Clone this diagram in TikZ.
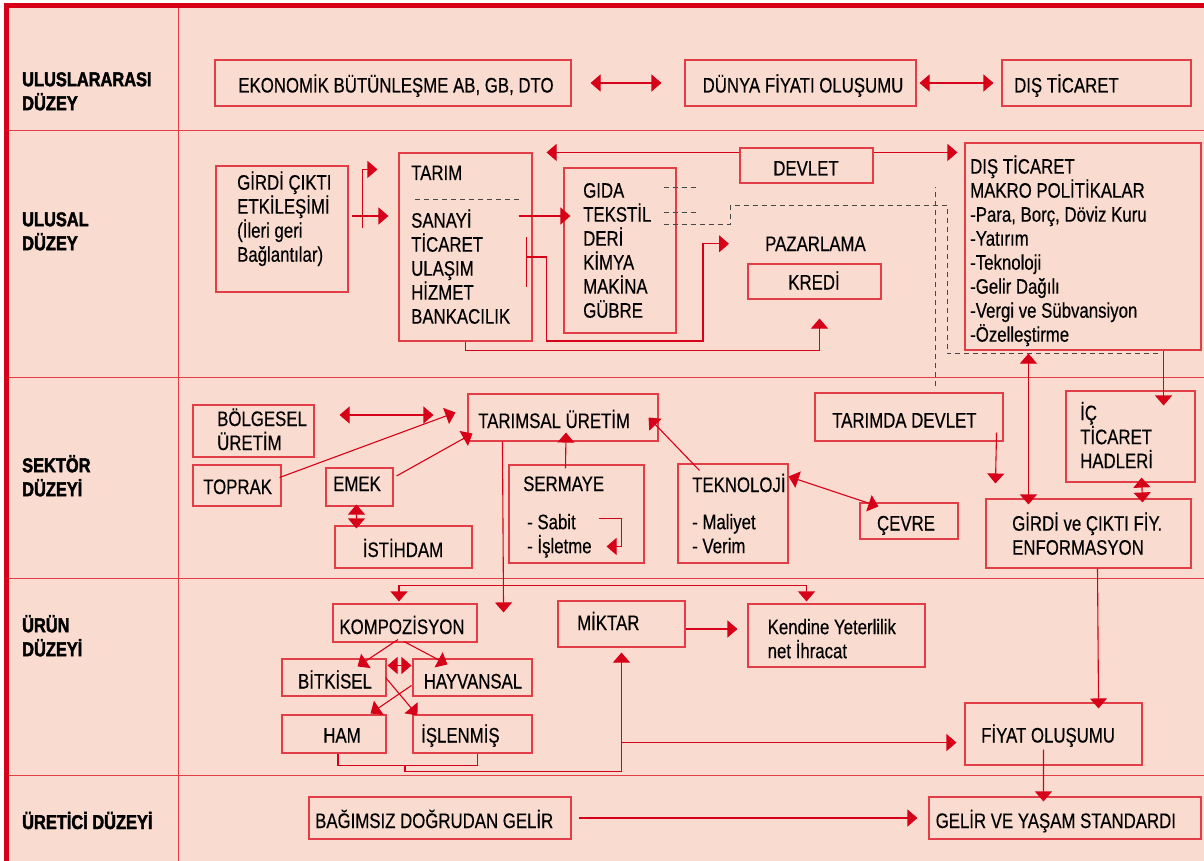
\documentclass[tikz,border=0pt]{standalone}
\usepackage{fontspec}
\setmainfont{Liberation Sans}[FakeStretch=0.8,FakeBold=0.4]
\newfontfamily\levelfont{Liberation Sans}[FakeStretch=0.82,FakeBold=2]
\usetikzlibrary{arrows.meta,fit}

\definecolor{bgpink}{RGB}{249,220,207}
\definecolor{framered}{RGB}{215,0,22}
\definecolor{boxred}{RGB}{226,62,72}
\definecolor{arrowred}{RGB}{214,0,24}
\definecolor{dashgray}{RGB}{70,70,70}

\newcommand{\bodyfont}{\fontsize{21}{24}\selectfont\lineskiplimit=-30pt}
\newcommand{\st}{\rule{0pt}{20pt}}

\tikzset{
  box/.style={draw=boxred, line width=1.1pt, inner sep=0pt},
  lbl/.style={anchor=base west, inner sep=0pt, font=\bodyfont},
  ctr/.style={anchor=base, inner sep=0pt, font=\bodyfont},
  lst/.style={anchor=north west, inner sep=0pt, align=left, font=\bodyfont},
  level/.style={anchor=north west, inner sep=0pt, align=left, font=\levelfont\bfseries\fontsize{20}{24}\selectfont},
  rowline/.style={draw=boxred, line width=1pt},
  arr/.style={draw=arrowred, line width=1.1pt, -{Triangle[length=10pt,width=17pt]}},
  dbl/.style={draw=arrowred, line width=1.1pt, {Triangle[length=10pt,width=17pt]}-{Triangle[length=10pt,width=17pt]}},
  link/.style={draw=arrowred, line width=1.1pt},
  dashln/.style={draw=dashgray, line width=1pt, dash pattern=on 5pt off 4pt}
}

\begin{document}
\begin{tikzpicture}[x=1pt,y=-1pt]

\useasboundingbox (0,0) rectangle (1204,861);
\fill[white] (0,0) rectangle (1204,861);
\fill[bgpink] (4,3) rectangle (1204,861);
\fill[framered] (4,3) rectangle (1204,8);
\fill[framered] (4,3) rectangle (9,861);
\foreach \y in {131,377,578,775}
  \draw[rowline] (9,\y) -- (1204,\y);
\draw[rowline] (178,8) -- (178,861);

\node[level] (l1) at (22,66) {\st ULUSLARARASI\\DÜZEY};
\node[level] (l2) at (22,206) {\st ULUSAL\\DÜZEY};
\node[level] (l3) at (22,452) {\st SEKTÖR\\DÜZEYİ};
\node[level] (l4) at (22,612) {\st ÜRÜN\\DÜZEYİ};
\node[level, anchor=base west] (l5) at (22,829) {ÜRETİCİ DÜZEYİ};

\node[box, fit={(215,60) (571,106)}] (eko) {};
\node[ctr] (eko-t) at (396,92.5) {EKONOMİK BÜTÜNLEŞME AB, GB, DTO};
\node[box, fit={(685,60) (916,106)}] (dunya) {};
\node[ctr] (dunya-t) at (803,92.5) {DÜNYA FİYATI OLUŞUMU};
\node[box, fit={(1002,60) (1191,106)}] (dis) {};
\node[lbl] (dis-t) at (1014,92.5) {DIŞ TİCARET};

\draw[dbl] ([xshift=19pt]eko.east) -- ([xshift=-23pt]dunya.west);
\draw[dbl] ([xshift=3pt]dunya.east) -- ([xshift=-8pt]dis.west);

\node[box, fit={(216,166) (348,292)}] (girdi) {};
\node[lst] (girdi-t) at (237,169.5) {\st GİRDİ ÇIKTI\\ETKİLEŞİMİ\\(İleri geri\\Bağlantılar)};
\node[box, fit={(399,153) (532,341)}] (tarim) {};
\node[lbl] (tarim-t) at (411,180) {TARIM};
\node[lst] (sektor-t) at (411,207.5) {\st SANAYİ\\TİCARET\\ULAŞIM\\HİZMET\\BANKACILIK};
\node[box, fit={(564,168) (676,333)}] (gida) {};
\node[lst] (gida-t) at (583,177.5) {\st GIDA\\TEKSTİL\\DERİ\\KİMYA\\MAKİNA\\GÜBRE};
\node[box, fit={(740,148) (873,183)}] (devlet) {};
\node[ctr] (devlet-t) at (806,175.5) {DEVLET};
\node[lbl] (pazar) at (765,251) {PAZARLAMA};
\node[box, fit={(748,264) (881,299)}] (kredi) {};
\node[ctr] (kredi-t) at (814,289.5) {KREDİ};
\node[box, fit={(965,143) (1201,350)}] (makro) {};
\node[lst] (makro-t) at (970,153.5) {\st DIŞ TİCARET\\MAKRO POLİTİKALAR\\-Para, Borç, Döviz Kuru\\-Yatırım\\-Teknoloji\\-Gelir Dağılı\\-Vergi ve Sübvansiyon\\-Özelleştirme};

\draw[arr] ([xshift=3pt,yshift=13pt]girdi.east) coordinate (g0) -- ([xshift=-10pt]g0 -| tarim.west);
\draw[arr] ([xshift=11pt,yshift=-12pt]g0) |- ([xshift=-21pt,yshift=-17pt]tarim.north west);
\draw[dashln] ([xshift=17pt,yshift=-47pt]tarim.north west) -- ([xshift=-12pt,yshift=-47pt]tarim.north east);
\draw[arr] ([xshift=-14pt]g0 -| tarim.east) -- ([xshift=7pt]g0 -| gida.west);
\draw[link] ([xshift=-6pt,yshift=10pt]tarim.east) -- ([xshift=-6pt,yshift=-40pt]tarim.east);
\draw[arr] ([xshift=-6pt,yshift=-10pt]tarim.east) -| ++(20,84) -| ([xshift=-62pt]pazar.west) -- ([xshift=-36pt]pazar.west);
\draw[arr] (tarim.south) -- ++(0,9) -| ([xshift=5pt,yshift=-19pt]kredi.south);
\draw[arr] ([yshift=-5pt]devlet.north west) coordinate (d0) -- ([xshift=14pt]d0 -| tarim.east);
\draw[arr] ([yshift=-5pt]devlet.north east) -- ([xshift=-7pt]d0 -| makro.west);
\draw[dashln] ([xshift=-13pt,yshift=-20pt]gida.north east) -- ++(34,0);
\draw[dashln] ([xshift=-13pt,yshift=-45pt]gida.north east) -- ++(34,0);
\draw[dashln] ([xshift=-13pt,yshift=-57pt]gida.north east) -- ++(67,0) -- ++(0,-19) -| ([xshift=-17pt,yshift=-3pt]makro.south west) -- ([xshift=-44pt,yshift=-3pt]makro.south east);

\node[box, fit={(193,405) (314,457)}] (bolgesel) {};
\node[lst] (bolgesel-t) at (217,405.8) {\st BÖLGESEL\\ÜRETİM};
\node[box, fit={(193,465) (281,506)}] (toprak) {};
\node[lbl] (toprak-t) at (203,494) {TOPRAK};
\node[box, fit={(326,468) (393,506)}] (emek) {};
\node[lbl] (emek-t) at (333,491) {EMEK};
\node[box, fit={(335,526) (472,568)}] (istihdam) {};
\node[ctr] (istihdam-t) at (403,557) {İSTİHDAM};
\node[box, fit={(468,394) (658,441)}] (tarimsal) {};
\node[lbl] (tarimsal-t) at (478,428) {TARIMSAL ÜRETİM};
\node[box, fit={(509,465) (644,563)}] (sermaye) {};
\node[lbl] (sermaye-t) at (523,491) {SERMAYE};
\node[lst] (sermaye-l) at (527,509) {\st - Sabit\\- İşletme};
\node[box, fit={(678,464) (788,563)}] (teknoloji) {};
\node[lbl] (teknoloji-t) at (692,492) {TEKNOLOJİ};
\node[lst] (teknoloji-l) at (692,509) {\st - Maliyet\\- Verim};
\node[box, fit={(860,503) (958,539)}] (cevre) {};
\node[ctr] (cevre-t) at (906,530.5) {ÇEVRE};
\node[box, fit={(815,393) (1003,441)}] (tdevlet) {};
\node[lbl] (tdevlet-t) at (832,427.5) {TARIMDA DEVLET};
\node[box, fit={(1066,391) (1195,482)}] (ic) {};
\node[lst] (ic-t) at (1080,400) {\st İÇ\\TİCARET\\HADLERİ};
\node[box, fit={(986,499) (1191,568)}] (gfiy) {};
\node[lst] (gfiy-t) at (1012,510.5) {\st GİRDİ ve ÇIKTI FİY.\\ENFORMASYON};

\draw[dashln] ([xshift=26pt,yshift=6pt]tdevlet.north) -- ++(0,-199);
\draw[dbl] ([xshift=64pt,yshift=-3pt]makro.south west) -- ([xshift=43pt,yshift=-6pt]gfiy.north west);
\draw[arr] ([xshift=-38pt]makro.south east) -- ([xshift=-32pt,yshift=-15pt]ic.north east);
\draw[dbl] ([xshift=25pt,yshift=16pt]bolgesel.east) coordinate (b0) -- ([xshift=-34pt]b0 -| tarimsal.west);
\draw[arr] ([xshift=-2pt,yshift=8pt]toprak.east) -- ([xshift=-12pt,yshift=5pt]tarimsal.west);
\draw[arr] ([xshift=3pt,yshift=11pt]emek.east) -- ([xshift=5pt,yshift=8pt]tarimsal.south west);
\draw[dbl] ([xshift=-3pt,yshift=2pt]emek.south) -- ([xshift=22pt,yshift=-3pt]istihdam.north west);
\draw[arr] ([xshift=-11pt,yshift=-4pt]sermaye.north) -- ([xshift=3pt,yshift=9pt]tarimsal.south);
\draw[arr] ([xshift=-46pt,yshift=-54pt]sermaye.north east) -| ++(23,28) -- ++(-15,0);
\draw[arr] ([xshift=22pt,yshift=-7pt]teknoloji.north west) -- ([xshift=-10pt]tarimsal.east);
\draw[dbl] ([yshift=-13pt]teknoloji.north east) -- ([xshift=19pt,yshift=-4pt]cevre.north west);
\draw[arr] ([xshift=-7pt,yshift=9pt]tdevlet.south east) -- ([xshift=10pt,yshift=15pt]gfiy.north west);
\draw[dbl] ([xshift=11pt,yshift=5pt]ic.south) -- ([xshift=-49pt,yshift=-4pt]gfiy.north east);

\node[box, fit={(333,604) (477,642)}] (komp) {};
\node[ctr] (komp-t) at (402,634) {KOMPOZİSYON};
\node[box, fit={(282,659) (386,696)}] (bitkisel) {};
\node[ctr] (bitkisel-t) at (335,688.5) {BİTKİSEL};
\node[box, fit={(413,659) (532,696)}] (hayvansal) {};
\node[ctr] (hayvansal-t) at (473,688.5) {HAYVANSAL};
\node[box, fit={(282,715) (386,753)}] (ham) {};
\node[ctr] (ham-t) at (342,742.5) {HAM};
\node[box, fit={(413,715) (532,753)}] (islenmis) {};
\node[lbl] (islenmis-t) at (421,742.5) {İŞLENMİŞ};
\node[box, fit={(558,601) (685,647)}] (miktar) {};
\node[lbl] (miktar-t) at (577,630) {MİKTAR};
\node[box, fit={(748,604) (925,667)}] (kendine) {};
\node[lst] (kendine-t) at (767.5,614) {\st Kendine Yeterlilik\\net İhracat};
\node[box, fit={(965,703) (1142,765)}] (fiyat) {};
\node[lbl] (fiyat-t) at (981,742.5) {FİYAT OLUŞUMU};

\draw[arr] ([xshift=9pt]gfiy.south) -- ([xshift=-44pt,yshift=-6pt]fiyat.north east);
\draw[arr] ([xshift=35pt]tarimsal.south west) -- ([xshift=26pt,yshift=-9pt]komp.north east);
\draw[dbl] ([xshift=-6pt,yshift=2pt]komp.north) -- ++(0,-16) -| ([xshift=-30pt,yshift=2pt]kendine.north);
\draw[arr] ([xshift=-7pt,yshift=3pt]komp.south) -- ([xshift=-29pt,yshift=-8pt]bitkisel.north east);
\draw[arr] ([xshift=-1pt,yshift=1pt]komp.south) -- ([xshift=35pt,yshift=-6pt]hayvansal.north west);
\draw[dbl] ([xshift=1pt,yshift=12pt]bitkisel.east) -- ([xshift=-1pt,yshift=12pt]hayvansal.west);
\draw[arr] ([xshift=-1pt]bitkisel.east) -- ([xshift=5pt,yshift=-1pt]islenmis.north west);
\draw[arr] ([xshift=-1pt,yshift=-8pt]hayvansal.west) -- ([xshift=-16pt,yshift=1pt]ham.north east);
\draw[link] ([xshift=4pt]ham.south) -- ++(0,12) -| ([xshift=5pt]islenmis.south);
\draw[arr] ([xshift=71pt,yshift=-12pt]ham.south) -- ++(0,6) -| ([yshift=-5pt]miktar.south);
\draw[arr] ([yshift=-95pt]miktar.south) coordinate (m1) -- ([xshift=-8pt]m1 -| fiyat.west);
\draw[arr] ([yshift=-5pt]miktar.east) coordinate (k0) -- ([xshift=-10pt]k0 -| kendine.west);

\node[box, fit={(309,797) (571,839)}] (bagimsiz) {};
\node[lbl] (bagimsiz-t) at (315,828) {BAĞIMSIZ DOĞRUDAN GELİR};
\node[box, fit={(929,797) (1201,839)}] (gelir) {};
\node[lbl] (gelir-t) at (935.5,828) {GELİR VE YAŞAM STANDARDI};

\draw[arr] ([xshift=-10pt,yshift=16pt]fiyat.south) -- ([xshift=115pt,yshift=-5pt]gelir.north west);
\draw[arr] ([xshift=7pt]bagimsiz.east) -- ([xshift=-11pt]gelir.west);

\end{tikzpicture}
\end{document}
